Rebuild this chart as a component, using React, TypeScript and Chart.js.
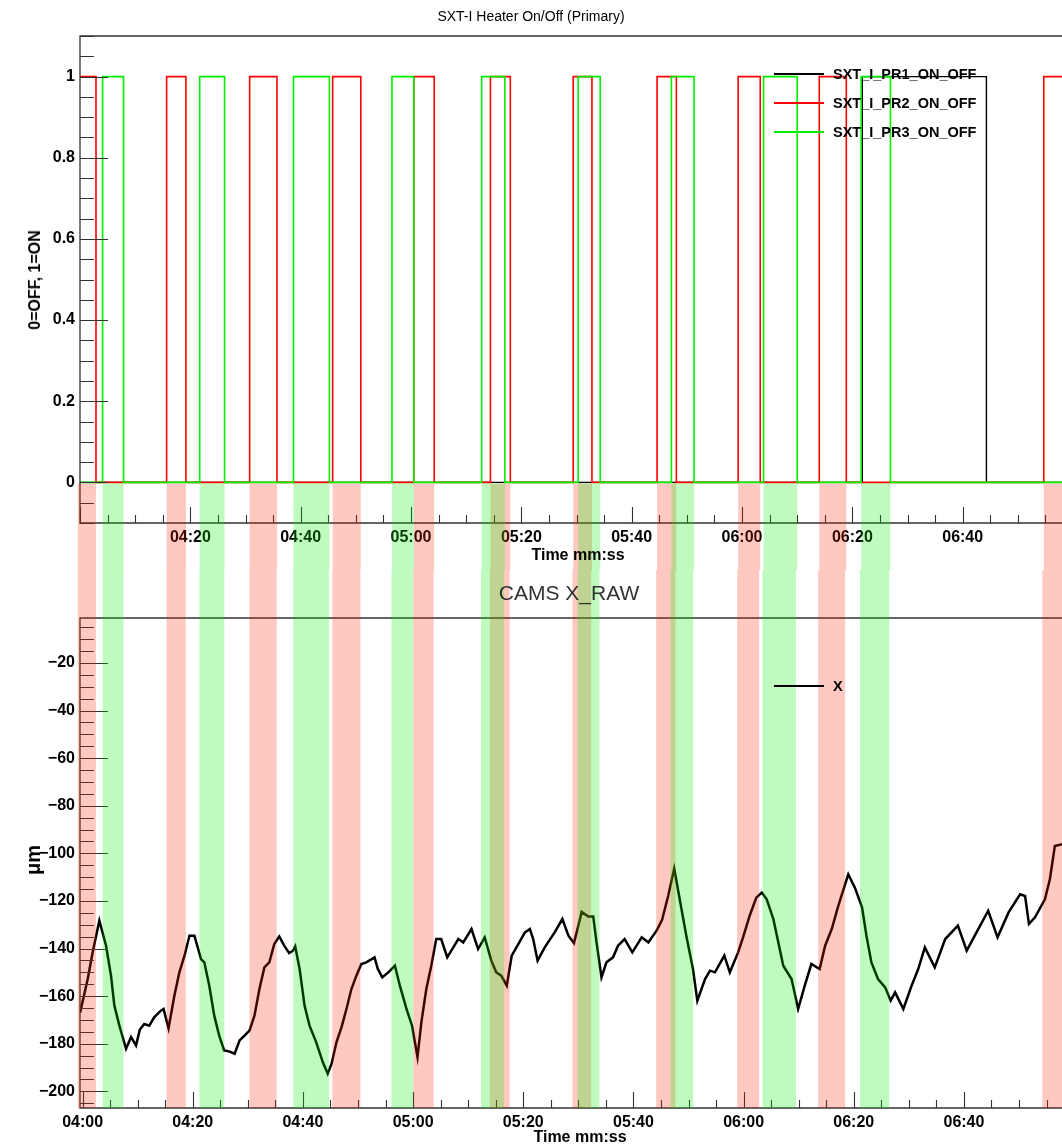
import React, { useEffect, useRef } from "react";
import { Chart, registerables } from "chart.js";
Chart.register(...registerables);

const FONT = '"Liberation Sans", Arial, Helvetica, sans-serif';

// ---- Top panel: heater ON intervals, seconds after 04:00 ----
const pr1OnIntervals: number[][] = [[141.8, 164.3]];
const pr2OnIntervals: number[][] = [
  [-0.4, 2.9], [15.7, 19.2], [30.75, 35.7], [45.8, 50.9], [60.5, 64.2], [74.4, 78.0],
  [89.4, 92.8], [104.6, 108.1], [119.3, 123.3], [134.0, 138.9], [174.7, 180],
];
const pr3OnIntervals: number[][] = [
  [4.1, 7.9], [21.7, 26.2], [38.7, 45.2], [56.55, 60.5], [72.8, 77.0], [90.3, 94.3],
  [107.2, 111.3], [123.9, 130.0], [141.6, 146.9],
];
const seriesNames = ["SXT_I_PR1_ON_OFF", "SXT_I_PR2_ON_OFF", "SXT_I_PR3_ON_OFF"];

// ---- Bottom panel: CAMS X_RAW trace ----
const camsTime: number[] = [
  -0.45, 0.93, 1.83, 3.04, 4.26, 5.16, 5.77, 6.68, 7.89, 8.8, 9.7, 10.4, 11.2, 12.1, 13.0, 14.2, 14.7, 15.6,
  16.66, 17.57, 18.5, 19.4, 20.3, 21.5, 22.1, 23.0, 23.9, 24.8, 25.7, 26.7, 27.6, 28.5, 29.4, 30.3,
  31.2, 32.1, 33.0, 33.9, 34.8, 35.7, 36.6, 37.5, 38.2, 38.6, 39.4, 40.3, 41.2, 42.4, 43.6, 44.5,
  45.2, 46.1, 47.0, 47.9, 48.8, 49.7, 50.6, 51.5, 53.0, 53.6, 54.4, 55.5, 56.7, 57.6, 58.8, 59.8,
  60.8, 61.5, 62.4, 63.3, 64.2, 65.1, 66.2, 67.3, 68.2, 69.1, 70.6, 71.8, 73.0, 74.2, 75.1, 76.0,
  77.0, 77.9, 79.1, 80.3, 81.2, 81.8, 82.6, 83.9, 85.7, 87.1, 88.2, 89.2, 90.3, 90.6, 91.8, 92.7,
  93.3, 94.2, 95.1, 96.3, 97.2, 98.4, 99.8, 101.5, 102.7, 104.2, 105.2, 106.3, 107.4, 108.4, 109.6,
  110.8, 111.6, 113.0, 113.9, 114.8, 116.5, 117.5, 119.0, 119.9, 121.1, 122.3, 123.3, 124.2, 125.4,
  126.3, 127.2, 128.7, 129.9, 131.1, 132.3, 133.8, 134.8, 136.0, 137.2, 139.0, 140.2, 141.5, 142.3,
  143.2, 144.4, 145.7, 146.7, 147.5, 149.0, 150.5, 151.7, 152.9, 154.7, 156.6, 158.9, 160.5, 162.6,
  164.4, 166.1, 168.1, 170.2, 171.1, 171.8, 172.9, 174.7, 175.6, 176.5, 177.8,
];
const camsX: number[] = [
  -167, -152.8, -141.6, -128.3, -138.8, -151.4, -164.0, -172.4, -182.1, -177.2, -180.7, -174, -171.7, -172.4, -168.9, -166.1, -165.4, -173.5,
  -159.8, -150.0, -143.0, -134.6, -134.6, -144.4, -145.8, -155.6, -168.2, -176.6, -182.8, -183.3, -184.2, -178.6, -176.6, -174.5,
  -168.2, -157.0, -147.9, -145.8, -138.1, -134.9, -138.8, -141.9, -140.9, -139.1, -148.6, -164.0, -172.4, -179.3, -187.7, -192.6,
  -188.4, -179.3, -173.1, -165.4, -157.0, -151.4, -146.5, -145.8, -143.7, -148.6, -152.1, -150.0, -147.2, -155.6, -165.4, -172.4,
  -185.6, -171.0, -157.0, -147.2, -136.0, -136.0, -143.7, -139.5, -136.0, -137.4, -131.8, -140.2, -135.3, -145.1, -150.0, -151.4,
  -155.6, -143.0, -138.1, -133.2, -131.8, -136.0, -145.1, -139.5, -133.2, -127.6, -134.6, -137.7, -127.6, -124.6, -126.5, -126.5,
  -137.4, -152.1, -145.8, -143.7, -138.8, -136.0, -141.6, -135.3, -137.4, -132.5, -127.9, -117.9, -106.4, -119.3, -134.6,
  -148.6, -161.9, -152.8, -149.3, -150.0, -143.0, -150.0, -141.6, -135.3, -126.2, -118.6, -116.5, -119.3, -127.6,
  -137.4, -147.2, -152.8, -165.4, -155.6, -146.5, -148.6, -138.8, -131.8, -122.0, -108.8, -114.4, -122.7, -134.6,
  -145.8, -152.8, -156.3, -161.9, -158.4, -165.4, -155.6, -148.6, -139.5, -147.9, -136.0, -130.4, -140.9, -131.8,
  -124.1, -135.3, -124.8, -117.2, -117.9, -129.7, -126.9, -119.3, -110.9, -96.9, -96.2,
];

// ---- Tick labels ----
const xTickSecondsTop = [20, 40, 60, 80, 100, 120, 140, 160];
const xTickSecondsBottom = [0, 20, 40, 60, 80, 100, 120, 140, 160];
const yTicksTop = [0, 0.2, 0.4, 0.6, 0.8, 1];
const yTicksBottom = [-20, -40, -60, -80, -100, -120, -140, -160, -180, -200];

const RED_BAND = "rgba(255,30,0,0.24)";
const GREEN_BAND = "rgba(0,240,0,0.25)";

function fmtTime(v: number) {
  const s = Math.round(240 + v);
  const m = Math.floor(s / 60);
  const ss = s % 60;
  return String(m).padStart(2, "0") + ":" + String(ss).padStart(2, "0");
}

function stepData(intervals: number[][], lo: number, hi: number) {
  const pts: { x: number; y: number }[] = [{ x: lo, y: 0 }];
  for (const [a, b] of intervals) {
    pts.push({ x: a, y: 0 }, { x: a, y: 1 }, { x: b, y: 1 }, { x: b, y: 0 });
  }
  pts.push({ x: hi, y: 0 });
  return pts;
}

const rootFramePlugin = {
  id: "rootFrame",
  afterDraw(chart: any, _args: any, opts: any) {
    const { ctx, chartArea: a, scales } = chart;
    const xs = scales.x;
    const ys = scales.y;
    ctx.save();
    // frame
    ctx.strokeStyle = "#333";
    ctx.lineWidth = 1.3;
    ctx.beginPath();
    ctx.moveTo(a.right + 2, a.top);
    ctx.lineTo(a.left, a.top);
    ctx.lineTo(a.left, a.bottom);
    ctx.lineTo(a.right + 2, a.bottom);
    ctx.stroke();
    ctx.lineWidth = 1.1;
    // y ticks (inward)
    const yMaj: number[] = opts.yMajor;
    const ys0 = Math.ceil(ys.min / opts.yStep - 1e-6);
    const ys1 = Math.floor(ys.max / opts.yStep + 1e-6);
    ctx.beginPath();
    for (let i = ys0; i <= ys1; i++) {
      const v = i * opts.yStep;
      const major = yMaj.some((m) => Math.abs(m - v) < 1e-6);
      const py = Math.round(ys.getPixelForValue(v)) + 0.5;
      ctx.moveTo(a.left, py);
      ctx.lineTo(a.left + (major ? 28 : 14), py);
    }
    // x ticks (inward)
    const xs0 = Math.ceil(xs.min / opts.xStep - 1e-6);
    const xs1 = Math.floor(xs.max / opts.xStep + 1e-6);
    for (let i = xs0; i <= xs1; i++) {
      const v = i * opts.xStep;
      const major = Math.abs(v / 20 - Math.round(v / 20)) < 1e-6;
      const px = Math.round(xs.getPixelForValue(v)) + 0.5;
      ctx.moveTo(px, a.bottom);
      ctx.lineTo(px, a.bottom - (major ? 16 : 8));
    }
    ctx.stroke();
    // heater bands overlay
    const top = opts.bandFromZero ? ys.getPixelForValue(0) + 1 : 0;
    const bottom = opts.bandFromZero ? chart.height : a.bottom;
    for (const band of opts.bands) {
      ctx.fillStyle = band.color;
      for (const [s, e] of band.intervals) {
        const x0 = xs.getPixelForValue(s + opts.bandShift);
        const x1 = xs.getPixelForValue(e + opts.bandShift);
        const l = Math.max(x0, 0);
        const r = Math.min(x1, chart.width);
        if (r > l) ctx.fillRect(l, top, r - l, bottom - top);
      }
    }
    ctx.restore();
  },
};

const bandsDef = [
  { intervals: pr2OnIntervals, color: RED_BAND },
  { intervals: pr3OnIntervals, color: GREEN_BAND },
];

const tickFont = { family: FONT, size: 16, weight: "bold" as const };

function TopChart() {
  const ref = useRef<HTMLCanvasElement>(null);
  useEffect(() => {
    const chart = new Chart(ref.current!, {
      type: "line",
      data: {
        datasets: [
          { label: seriesNames[2], data: stepData(pr3OnIntervals, -1, 182), borderColor: "#00f000", borderWidth: 1.6, pointRadius: 0, order: 0 },
          { label: seriesNames[1], data: stepData(pr2OnIntervals, -1, 182), borderColor: "#ff0000", borderWidth: 1.6, pointRadius: 0, order: 1 },
          { label: seriesNames[0], data: stepData(pr1OnIntervals, -1, 182), borderColor: "#000000", borderWidth: 1.4, pointRadius: 0, order: 2 },
        ],
      },
      options: {
        animation: false,
        responsive: false,
        maintainAspectRatio: false,
        layout: { padding: { top: 36, left: 0, right: 0, bottom: 0 } },
        plugins: {
          legend: { display: false },
          title: { display: false },
          tooltip: { enabled: false },
          rootFrame: { yMajor: yTicksTop, yStep: 0.05, xStep: 5, bands: bandsDef, bandFromZero: true, bandShift: 0 },
        } as any,
        scales: {
          x: {
            type: "linear",
            min: 0,
            max: 178,
            afterBuildTicks: (s: any) => { s.ticks = xTickSecondsTop.map((v) => ({ value: v })); },
            afterFit: (s: any) => { s.height = 47; },
            grid: { display: false, drawTicks: false },
            border: { display: false },
            ticks: { callback: (v: any) => fmtTime(Number(v)), font: tickFont, color: "#000", padding: 5, maxRotation: 0, autoSkip: false },
          },
          y: {
            type: "linear",
            min: -0.1,
            max: 1.1,
            afterBuildTicks: (s: any) => { s.ticks = yTicksTop.map((v) => ({ value: v })); },
            afterFit: (s: any) => { s.width = 80; },
            grid: { display: false, drawTicks: false },
            border: { display: false },
            ticks: { callback: (v: any) => String(Math.round(Number(v) * 10) / 10), font: tickFont, color: "#000", padding: 5 },
          },
        },
      },
      plugins: [rootFramePlugin],
    });
    return () => chart.destroy();
  }, []);
  return <canvas ref={ref} width={1062} height={570} style={{ position: "absolute", left: 0, top: 0, display: "block" }} />;
}

function BottomChart() {
  const ref = useRef<HTMLCanvasElement>(null);
  useEffect(() => {
    const chart = new Chart(ref.current!, {
      type: "line",
      data: {
        datasets: [
          {
            label: "X",
            data: camsTime.map((t, i) => ({ x: t, y: camsX[i] })),
            borderColor: "#000",
            borderWidth: 2.5,
            pointRadius: 0,
            tension: 0,
          },
        ],
      },
      options: {
        animation: false,
        responsive: false,
        maintainAspectRatio: false,
        layout: { padding: { top: 48, left: 0, right: 0, bottom: 0 } },
        plugins: {
          legend: { display: false },
          title: { display: false },
          tooltip: { enabled: false },
          rootFrame: { yMajor: yTicksBottom, yStep: 5, xStep: 5, bands: bandsDef, bandFromZero: false, bandShift: -0.47 },
        } as any,
        scales: {
          x: {
            type: "linear",
            min: -0.47,
            max: 177.8,
            afterBuildTicks: (s: any) => { s.ticks = xTickSecondsBottom.map((v) => ({ value: v })); },
            afterFit: (s: any) => { s.height = 39; },
            grid: { display: false, drawTicks: false },
            border: { display: false },
            ticks: { callback: (v: any) => fmtTime(Number(v)), font: tickFont, color: "#000", padding: 5, maxRotation: 0, autoSkip: false },
          },
          y: {
            type: "linear",
            min: -207,
            max: -1.1,
            afterBuildTicks: (s: any) => { s.ticks = yTicksBottom.map((v) => ({ value: v })); },
            afterFit: (s: any) => { s.width = 80; },
            grid: { display: false, drawTicks: false },
            border: { display: false },
            ticks: { callback: (v: any) => "\u2212" + Math.abs(Number(v)), font: tickFont, color: "#000", padding: 5 },
          },
        },
      },
      plugins: [rootFramePlugin],
    });
    return () => chart.destroy();
  }, []);
  return <canvas ref={ref} width={1062} height={577} style={{ position: "absolute", left: 0, top: 570, display: "block" }} />;
}

function Text(props: { x: number; y: number; text: string; size: number; weight?: string; color?: string; rotate?: boolean; align?: "center" | "left" }) {
  const { x, y, text, size, weight = "normal", color = "#000", rotate = false, align = "center" } = props;
  const tx = align === "center" ? "-50%" : "0";
  return (
    <div
      style={{
        position: "absolute",
        left: x,
        top: y,
        transform: `translate(${tx}, -50%)${rotate ? " rotate(-90deg)" : ""}`,
        whiteSpace: "nowrap",
        fontFamily: FONT,
        fontSize: size,
        fontWeight: weight as any,
        color,
        lineHeight: 1,
      }}
    >
      {text}
    </div>
  );
}

function LegendLine(props: { x: number; y: number; color: string }) {
  return <div style={{ position: "absolute", left: props.x, top: Math.round(props.y) - 1, width: 50, height: 2, background: props.color }} />;
}

export default function App() {
  return (
    <div style={{ position: "absolute", left: 0, top: 0, width: 1062, height: 1147, overflow: "hidden", background: "#fff" }}>
      <TopChart />
      <BottomChart />
      <Text x={531} y={16} text="SXT-I Heater On/Off (Primary)" size={14} />
      <Text x={569} y={592} text="CAMS X_RAW" size={21} color="#333" />
      <Text x={578} y={555} text="Time mm:ss" size={16} weight="bold" />
      <Text x={580} y={1137} text="Time mm:ss" size={16} weight="bold" />
      <Text x={35} y={280} text="0=OFF, 1=ON" size={16} weight="bold" rotate />
      <Text x={33} y={860} text="μm" size={20} weight="bold" rotate />
      <LegendLine x={774} y={74} color="#000" />
      <LegendLine x={774} y={103} color="#ff0000" />
      <LegendLine x={774} y={131.5} color="#00f000" />
      <Text x={833} y={74} text={seriesNames[0]} size={14.5} weight="bold" align="left" />
      <Text x={833} y={103} text={seriesNames[1]} size={14.5} weight="bold" align="left" />
      <Text x={833} y={131.5} text={seriesNames[2]} size={14.5} weight="bold" align="left" />
      <LegendLine x={774} y={686} color="#000" />
      <Text x={833} y={686} text="X" size={14.5} weight="bold" align="left" />
    </div>
  );
}
